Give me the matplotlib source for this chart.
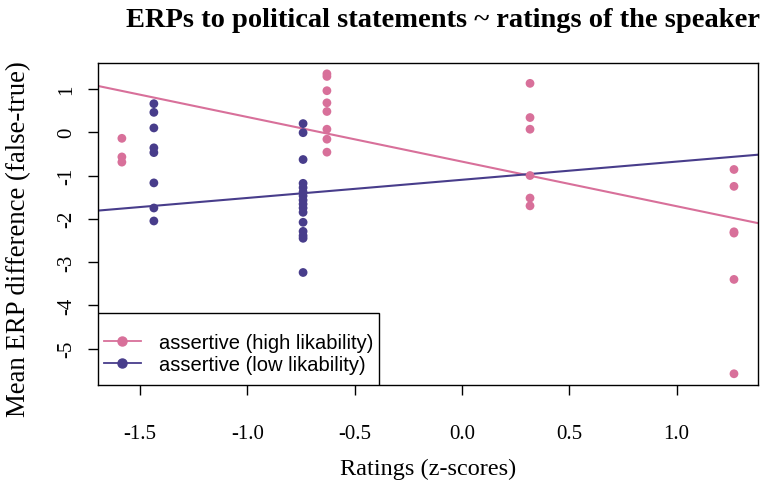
import matplotlib.pyplot as plt
from matplotlib.patches import Rectangle

# ratings (z-scores) and ERP differences
high_x = [-1.584] * 3 + [-0.629] * 8 + [0.317] * 6 + [1.267] * 6
high_y = [-0.14, -0.57, -0.69,
          1.35, 1.29, 0.96, 0.68, 0.48, 0.07, -0.16, -0.46,
          1.13, 0.34, 0.07, -1.00, -1.52, -1.70,
          -0.86, -1.25, -2.30, -2.33, -3.40, -5.58]

low_x = [-1.435] * 8 + [-0.740] * 16
low_y = [0.66, 0.46, 0.10, -0.36, -0.47, -1.17, -1.75, -2.05,
         0.20, -0.01, -0.63, -1.18, -1.28, -1.38, -1.47, -1.57,
         -1.66, -1.75, -1.85, -2.08, -2.29, -2.39, -2.45, -3.24]

# regression lines (intercept, slope)
high_fit = (-0.678, -1.031)
low_fit = (-1.098, 0.420)

x_ticks = [-1.5, -1.0, -0.5, 0.0, 0.5, 1.0]
y_ticks = [-5, -4, -3, -2, -1, 0, 1]

pink = '#D8709A'
purple = '#483D8B'

serif = ['Liberation Serif', 'DejaVu Serif']
sans = ['Liberation Sans', 'DejaVu Sans']

fig = plt.figure(figsize=(7.66, 4.89), dpi=100)
ax = fig.add_axes([0.128, 0.2106, 0.8616, 0.6585])

ax.scatter(high_x, high_y, s=40, color=pink, edgecolors='none', zorder=3)
ax.scatter(low_x, low_y, s=40, color=purple, edgecolors='none', zorder=3)
ax.axline((0, high_fit[0]), slope=high_fit[1], color=pink, lw=1.5, zorder=2)
ax.axline((0, low_fit[0]), slope=low_fit[1], color=purple, lw=1.5, zorder=2)

ax.set_xlim(-1.695, 1.379)
ax.set_ylim(-5.84, 1.60)
ax.set_xticks(x_ticks)
ax.set_xticklabels([f'{v:.1f}' for v in x_ticks], family=serif, fontsize=15)
ax.set_yticks(y_ticks)
ax.set_yticklabels([str(v) for v in y_ticks], family=serif, fontsize=15,
                   rotation=90, va='center')
ax.tick_params(direction='out', length=7, width=1)
ax.tick_params(axis='x', pad=21)
ax.tick_params(axis='y', pad=9)
for sp in ax.spines.values():
    sp.set_linewidth(1)

ax.set_xlabel('Ratings (z-scores)', family=serif, fontsize=17.5, labelpad=11)
ax.set_ylabel('Mean ERP difference (false-true)', family=serif, fontsize=19.3)
ax.yaxis.set_label_coords(-0.101, 0.457)
fig.suptitle('ERPs to political statements ~ ratings of the speaker',
             family=serif, fontsize=20.5, fontweight='bold', x=0.578, y=0.983)

# legend box like R's: taller padding than wide
box_w, box_h = 0.426, 0.224
ax.add_patch(Rectangle((0, 0), box_w, box_h, transform=ax.transAxes,
                       facecolor='white', edgecolor='black', lw=1, zorder=4))
h1, = ax.plot([], [], color=pink, marker='o', ms=6.5, lw=1.3)
h2, = ax.plot([], [], color=purple, marker='o', ms=6.5, lw=1.3)
leg = ax.legend([h1, h2], ['assertive (high likability)', 'assertive (low likability)'],
                loc='center', bbox_to_anchor=(box_w / 2, box_h / 2 - 0.015),
                prop={'family': sans, 'size': 14.5}, frameon=False,
                handlelength=1.85, handletextpad=0.9, borderpad=0,
                labelspacing=0.15)
leg.set_zorder(5)

fig.savefig('out.png', dpi=100)
